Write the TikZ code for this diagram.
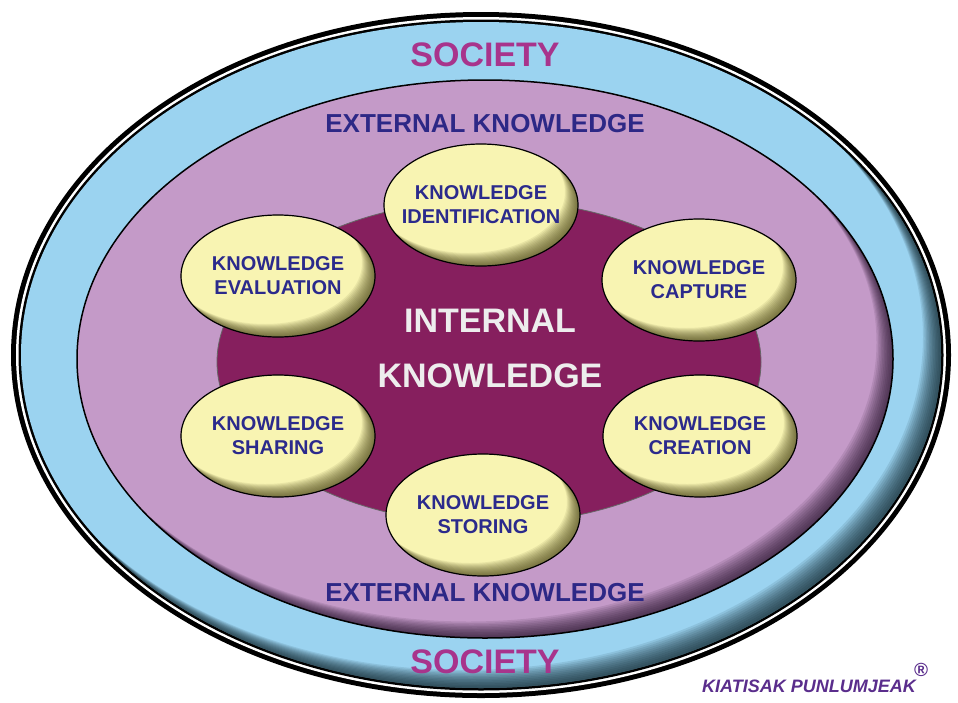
\documentclass[tikz,border=0pt]{standalone}
\usepackage{fontspec}
\setmainfont{Liberation Sans}
\usetikzlibrary{shapes.geometric}

\definecolor{bandlite}{HTML}{9BD3F0}
\definecolor{banddark}{HTML}{10262E}
\definecolor{externallite}{HTML}{C49AC8}
\definecolor{externaldark}{HTML}{24102A}
\definecolor{internalfill}{HTML}{861F5E}
\definecolor{stagelite}{HTML}{F8F4B2}
\definecolor{stagedark}{HTML}{4A4518}
\definecolor{stagetext}{HTML}{2B2A8C}
\definecolor{externaltext}{HTML}{2D2886}
\definecolor{societytext}{HTML}{A8348C}
\definecolor{internaltext}{HTML}{EDEDED}
\definecolor{authortext}{HTML}{5A2D8C}

\begin{document}
\begin{tikzpicture}[x=1pt, y=-1pt,
    stage/.style={ellipse, draw=black, line width=1.2pt, fill=stagelite,
        minimum width=194pt, minimum height=122pt, inner xsep=-30pt,
        align=center, text=stagetext, font=\fontsize{20}{24}\selectfont\bfseries,
        path picture={
            \foreach \d in {1,2,...,13}
                \fill[stagedark, opacity=.085, even odd rule]
                    (path picture bounding box.south west) rectangle (path picture bounding box.north east)
                    ([xshift=-\d pt, yshift=\d pt]path picture bounding box.center) ellipse [x radius=97pt, y radius=61pt];
        }},
    society/.style={text=societytext, font=\fontsize{34}{34}\selectfont\bfseries},
    external/.style={text=externaltext, font=\fontsize{26}{26}\selectfont\bfseries}]

    \useasboundingbox (0,0) rectangle (958,702);
    % society ring
    \fill (481,355) ellipse [x radius=470pt, y radius=343pt];
    \fill[white] (481,355) ellipse [x radius=465pt, y radius=338pt];
    \fill (481,355) ellipse [x radius=462.5pt, y radius=335.5pt];
    \begin{scope}
        \clip (481,355) ellipse [x radius=460pt, y radius=333pt];
        \fill[bandlite] (0,0) rectangle (958,702);
        \foreach \d in {1.5,3,...,18}
            \fill[banddark, opacity=.1, even odd rule] (0,0) rectangle (958,702)
                (481-\d,355-\d) ellipse [x radius=460pt, y radius=333pt];
    \end{scope}
    % external knowledge
    \begin{scope}
        \clip (485,359) ellipse [x radius=408pt, y radius=279pt];
        \fill[externallite] (0,0) rectangle (958,702);
        \foreach \d in {1.5,3,...,16.5}
            \fill[externaldark, opacity=.1, even odd rule] (0,0) rectangle (958,702)
                (485-\d,359-\d) ellipse [x radius=408pt, y radius=279pt];
    \end{scope}
    \draw[line width=1.5pt] (485,359) ellipse [x radius=408pt, y radius=279pt];
    % internal knowledge
    \filldraw[fill=internalfill, draw=black!60, line width=.8pt] (489,362) ellipse [x radius=272pt, y radius=162pt];

    \node[society] (societytop) at (485,55) {SOCIETY};
    \node[society] (societybottom) at (485,662) {SOCIETY};
    \node[external] (externaltop) at (485,124) {EXTERNAL KNOWLEDGE};
    \node[external] (externalbottom) at (485,593) {EXTERNAL KNOWLEDGE};
    \node[align=center, text=internaltext, font=\fontsize{34}{55}\selectfont\bfseries] (internal) at (490,348) {INTERNAL\\KNOWLEDGE};

    \node[stage] (identification) at (481,205) {KNOWLEDGE\\IDENTIFICATION};
    \node[stage] (capture) at (699,280) {KNOWLEDGE\\CAPTURE};
    \node[stage] (creation) at (700,436) {KNOWLEDGE\\CREATION};
    \node[stage] (storing) at (483,515) {KNOWLEDGE\\STORING};
    \node[stage] (sharing) at (278,436) {KNOWLEDGE\\SHARING};
    \node[stage] (evaluation) at (278,276) {KNOWLEDGE\\EVALUATION};

    \node[anchor=base west, inner sep=0pt, text=authortext, font=\fontsize{18}{18}\selectfont\bfseries\itshape] (author) at (702,692) {KIATISAK PUNLUMJEAK\kern-2pt\raisebox{16pt}{\fontsize{19}{19}\selectfont ®}};
\end{tikzpicture}
\end{document}
